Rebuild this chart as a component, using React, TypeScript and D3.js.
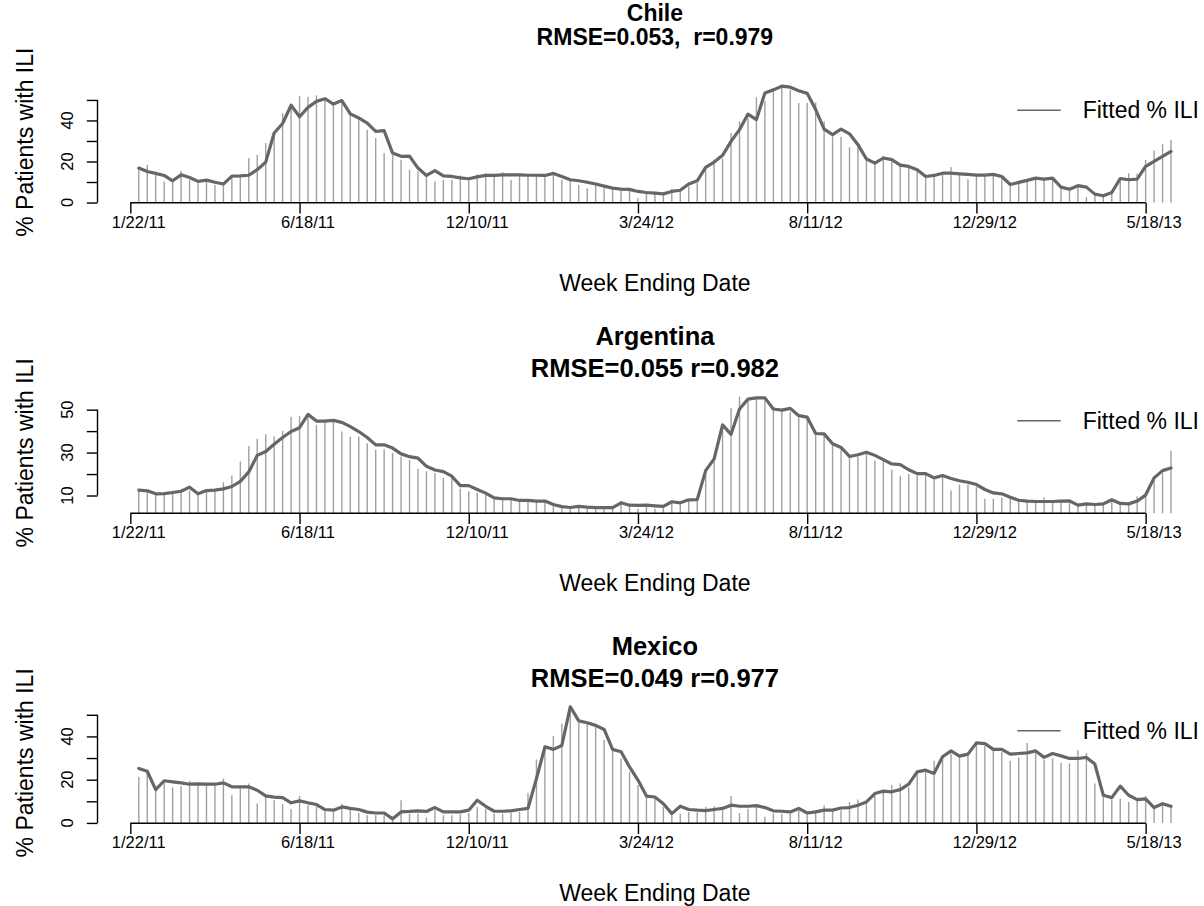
import * as React from 'react';
import * as d3 from 'd3';

// tick labels on the date axis (one every 20 weeks)
const dateLabels = ['1/22/11', '6/18/11', '12/10/11', '3/24/12', '8/11/12', '12/29/12', '5/18/13'];
const dateTickIdx = [0, 20, 40, 60, 80, 100, 120];

const chileObserved = [
  16.8, 18.4, 13.5, 10.3, 10.3, 15.5, 11.0, 9.5, 11.3, 8.6,
  8.6, 13.2, 12.7, 21.7, 23.3, 29.0, 33.0, 43.6, 46.9, 51.8,
  51.5, 52.3, 50.0, 47.5, 49.3, 42.9, 41.2, 35.5, 31.4, 24.1,
  23.3, 20.9, 16.0, 15.3, 12.7, 10.3, 11.1, 11.1, 13.2, 11.6,
  13.8, 14.3, 13.2, 14.8, 11.0, 13.7, 13.8, 13.3, 13.2, 14.2,
  11.1, 11.1, 8.6, 7.0, 9.0, 7.0, 7.0, 6.5, 6.4, 2.1,
  4.9, 4.6, 4.2, 6.7, 6.0, 7.8, 9.4, 16.8, 20.9, 21.4,
  33.9, 39.6, 41.2, 51.3, 49.3, 55.5, 56.7, 55.0, 48.5, 48.5,
  48.8, 39.6, 32.2, 31.9, 27.0, 27.7, 20.8, 18.9, 22.8, 20.1,
  17.9, 17.9, 15.2, 12.7, 13.2, 14.6, 17.3, 14.0, 11.4, 13.4,
  13.4, 13.7, 12.7, 8.1, 9.8, 10.8, 11.9, 11.4, 11.9, 7.5,
  6.5, 7.8, 2.6, 4.1, 3.3, 4.9, 11.4, 14.3, 14.0, 20.8,
  25.4, 28.5, 30.6,
];
const chileFitted = [
  16.8, 15.1, 14.2, 13.2, 10.6, 13.5, 12.2, 10.3, 10.9, 9.9,
  9.0, 12.9, 13.0, 13.3, 16.0, 19.7, 33.9, 38.5, 47.4, 41.8,
  46.4, 49.3, 50.6, 48.0, 49.7, 43.2, 41.2, 38.7, 34.7, 35.0,
  24.1, 22.5, 22.6, 16.8, 13.2, 15.5, 13.0, 12.7, 12.0, 11.6,
  12.5, 13.2, 13.2, 13.5, 13.5, 13.5, 13.3, 13.3, 13.2, 14.2,
  12.7, 11.1, 10.6, 9.9, 9.0, 8.0, 7.0, 6.5, 6.4, 5.4,
  4.9, 4.6, 4.2, 5.4, 6.0, 9.0, 10.6, 17.1, 19.7, 23.0,
  29.8, 35.5, 43.1, 40.4, 53.4, 54.9, 56.7, 56.2, 54.5, 53.2,
  45.3, 35.8, 33.1, 35.8, 33.5, 28.2, 21.2, 19.2, 21.7, 20.9,
  18.2, 17.6, 16.0, 12.7, 13.2, 14.3, 14.3, 14.0, 13.7, 13.4,
  13.4, 13.7, 12.7, 8.8, 9.8, 10.8, 11.9, 11.4, 11.9, 7.5,
  6.5, 8.2, 7.5, 4.1, 3.3, 4.9, 11.7, 11.1, 11.4, 17.6,
  20.0, 22.5, 24.9,
];

const argentinaObserved = [
  12.8, 12.0, 10.5, 10.9, 12.3, 12.8, 12.3, 10.2, 12.8, 12.5,
  16.2, 19.3, 25.9, 33.1, 36.4, 38.5, 37.5, 40.1, 46.7, 47.0,
  47.5, 42.9, 43.9, 44.7, 39.8, 37.3, 37.5, 34.4, 31.3, 31.6,
  29.8, 28.2, 26.5, 22.5, 21.3, 20.5, 18.2, 18.2, 13.2, 12.0,
  11.3, 10.5, 8.2, 8.5, 8.2, 7.7, 7.7, 7.4, 7.4, 5.8,
  4.8, 4.4, 4.9, 4.6, 4.4, 4.4, 4.4, 7.1, 5.5, 3.8,
  5.5, 3.8, 4.9, 7.1, 6.6, 8.0, 8.1, 20.5, 27.1, 41.4,
  50.9, 56.0, 54.5, 55.5, 54.8, 49.8, 49.8, 49.0, 46.3, 46.3,
  38.6, 38.3, 33.6, 31.3, 27.7, 28.2, 29.8, 26.2, 26.0, 22.0,
  19.0, 20.0, 19.4, 19.7, 17.5, 19.0, 12.3, 15.1, 15.1, 13.9,
  8.5, 8.5, 9.0, 9.2, 7.8, 7.4, 7.2, 9.2, 7.2, 7.4,
  7.5, 5.5, 6.1, 5.8, 6.1, 8.0, 6.3, 6.1, 9.7, 10.2,
  17.5, 20.5, 30.8,
];
const argentinaFitted = [
  12.5, 12.2, 10.8, 10.9, 11.4, 12.0, 13.9, 10.8, 12.3, 12.5,
  13.1, 14.2, 16.6, 21.0, 28.7, 30.5, 33.9, 37.0, 39.8, 41.6,
  47.8, 44.7, 44.7, 45.0, 44.1, 42.1, 39.8, 37.0, 33.6, 33.6,
  32.1, 29.4, 28.1, 27.4, 23.6, 21.9, 21.1, 19.0, 14.6, 14.6,
  12.8, 11.1, 8.9, 8.5, 8.5, 7.7, 7.7, 7.4, 7.4, 5.8,
  4.8, 4.4, 4.9, 4.6, 4.4, 4.4, 4.4, 6.6, 5.5, 5.4,
  5.5, 5.2, 4.9, 7.1, 6.6, 8.0, 8.1, 21.6, 27.1, 42.9,
  38.5, 50.3, 54.9, 55.5, 55.5, 50.3, 49.8, 50.6, 47.2, 46.5,
  38.9, 38.7, 34.1, 32.4, 28.2, 29.0, 30.2, 28.7, 26.7, 24.7,
  24.4, 22.0, 20.2, 20.2, 18.2, 19.3, 17.9, 16.9, 16.2, 15.1,
  12.8, 11.2, 10.8, 9.2, 7.8, 7.4, 7.2, 7.2, 7.2, 7.4,
  7.5, 5.5, 6.1, 5.8, 6.1, 8.0, 6.3, 6.1, 7.4, 10.2,
  18.2, 21.6, 22.8,
];

const mexicoObserved = [
  21.3, 23.6, 15.1, 19.0, 16.4, 17.0, 19.5, 18.5, 17.5, 17.5,
  20.5, 12.8, 15.9, 18.2, 9.0, 12.0, 10.5, 8.7, 6.3, 12.4,
  8.2, 7.4, 5.9, 5.1, 8.7, 6.6, 4.6, 3.5, 3.5, 3.5,
  2.0, 10.5, 4.3, 4.3, 2.5, 5.9, 3.5, 3.5, 4.0, 4.6,
  7.4, 6.6, 4.3, 4.3, 4.6, 5.1, 13.9, 29.3, 35.2, 40.1,
  46.0, 52.2, 46.3, 45.7, 44.4, 38.3, 33.6, 29.8, 23.6, 17.5,
  12.0, 11.3, 7.4, 3.5, 4.3, 5.1, 4.9, 7.4, 7.7, 5.9,
  12.4, 4.6, 6.6, 7.4, 2.8, 4.3, 4.3, 4.3, 5.9, 4.0,
  5.9, 8.2, 6.2, 5.9, 9.7, 10.8, 9.0, 12.8, 14.4, 17.5,
  18.2, 16.4, 22.5, 23.6, 28.7, 29.3, 32.1, 30.3, 31.3, 36.7,
  35.8, 33.6, 32.9, 28.7, 30.3, 37.0, 32.4, 29.3, 29.8, 27.8,
  27.5, 33.6, 32.4, 18.2, 12.0, 10.8, 11.3, 9.7, 10.5, 12.4,
  7.4, 8.2, 8.2,
];
const mexicoFitted = [
  25.2, 23.9, 15.4, 19.5, 19.0, 18.5, 17.9, 18.1, 17.9, 17.9,
  18.5, 16.7, 16.7, 16.7, 15.1, 12.5, 11.9, 11.7, 9.3, 10.2,
  9.3, 8.5, 6.2, 5.9, 7.4, 6.7, 6.2, 5.0, 4.6, 4.6,
  1.9, 5.1, 5.3, 5.6, 5.3, 7.1, 5.1, 5.1, 5.1, 5.9,
  10.5, 7.7, 5.4, 5.4, 5.6, 6.2, 6.7, 20.5, 35.2, 34.0,
  35.8, 53.7, 47.2, 46.3, 45.1, 43.2, 34.0, 32.9, 25.9, 19.8,
  12.4, 12.0, 8.9, 4.3, 7.7, 6.2, 5.9, 5.7, 6.2, 6.7,
  8.2, 7.7, 7.7, 8.0, 7.1, 5.6, 5.4, 5.1, 6.7, 4.6,
  5.1, 5.9, 5.9, 6.9, 7.1, 8.2, 9.7, 13.6, 14.7, 14.4,
  15.4, 17.9, 23.6, 24.4, 22.9, 30.6, 33.3, 30.9, 31.8, 37.0,
  36.7, 34.0, 34.0, 31.8, 32.1, 32.4, 33.3, 30.3, 32.1, 31.0,
  29.8, 29.8, 30.3, 27.2, 12.8, 11.7, 17.0, 12.8, 10.8, 11.1,
  7.1, 8.9, 7.7,
];

const countries = ['Chile', 'Argentina', 'Mexico'];
const statLines = ['RMSE=0.053,  r=0.979', 'RMSE=0.055 r=0.982', 'RMSE=0.049 r=0.977'];
const observedSeries = [chileObserved, argentinaObserved, mexicoObserved];
const fittedSeries = [chileFitted, argentinaFitted, mexicoFitted];
const yTickValues = [[0, 10, 20, 30, 40, 50], [10, 20, 30, 40, 50], [0, 10, 20, 30, 40, 50]];
const yTickLabels = [[0, 20, 40], [10, 30, 50], [0, 20, 40]];

// page geometry, hand tuned against the reference
const W = 1204;
const H = 906;
const plotLeft = 97.5;
const plotRight = 1212.3;
const plotHeight = 121;
const tickLen = 10.7;
const FONT = '"Liberation Sans", Arial, Helvetica, sans-serif';
const panelLayout = [
  { bottom: 202.7, titleY: 12.5, statsY: 37, titleSize: 23, xlabY: 283 },
  { bottom: 513.3, titleY: 335.5, statsY: 367.5, titleSize: 25.5, xlabY: 582.5 },
  { bottom: 823.3, titleY: 645.5, statsY: 677.5, titleSize: 25.5, xlabY: 892.5 },
];

const BAR_COLOR = '#a0a0a0';
const LINE_COLOR = '#666666';

const drawPanel = (svg, k) => {
  const observed = observedSeries[k];
  const fitted = fittedSeries[k];
  const L = panelLayout[k];
  const n = observed.length;
  const g = svg.append('g');

  // R style scales: data range padded by 4% on each side
  const xPad = 0.04 * (n - 1);
  const x = d3.scaleLinear().domain([1 - xPad, n + xPad]).range([plotLeft, plotRight]);
  const [lo, hi] = d3.extent(observed.concat(fitted)) as [number, number];
  const yPad = 0.04 * (hi - lo);
  const y = d3.scaleLinear().domain([lo - yPad, hi + yPad]).range([L.bottom, L.bottom - plotHeight]);
  const base = y(Math.max(0, y.domain()[0]));

  // observed bars (type = "h")
  g.append('g')
    .selectAll('line')
    .data(observed)
    .join('line')
    .attr('x1', (d, i) => x(i + 1))
    .attr('x2', (d, i) => x(i + 1))
    .attr('y1', base)
    .attr('y2', (d) => y(d))
    .attr('stroke', BAR_COLOR)
    .attr('stroke-width', 1.4);

  // fitted line
  const line = d3.line<number>()
    .x((d, i) => x(i + 1))
    .y((d) => y(d));
  g.append('path')
    .datum(fitted)
    .attr('d', line)
    .attr('fill', 'none')
    .attr('stroke', LINE_COLOR)
    .attr('stroke-width', 3.2)
    .attr('stroke-linejoin', 'round')
    .attr('stroke-linecap', 'round');

  // x axis: ticks every 20 weeks, axis line only between first and last tick
  const xAxis = g.append('g')
    .attr('transform', `translate(0, ${L.bottom})`)
    .call(d3.axisBottom(x).tickValues(dateTickIdx).tickSize(tickLen).tickFormat(() => ''));
  xAxis.select('.domain')
    .attr('d', `M${x(dateTickIdx[0])},0H${x(dateTickIdx[dateTickIdx.length - 1])}`);
  xAxis.selectAll('line, path').attr('stroke', '#000').attr('stroke-width', 1.4);
  xAxis.selectAll('text').remove();

  g.append('g')
    .selectAll('text')
    .data(dateLabels)
    .join('text')
    .attr('x', (d, i) => x(dateTickIdx[i] + 1))
    .attr('y', L.bottom + 19)
    .attr('text-anchor', 'middle')
    .attr('dominant-baseline', 'central')
    .attr('font-family', FONT)
    .attr('font-size', 16.5)
    .text((d) => d);

  // y axis
  const yt = yTickValues[k];
  const yAxis = g.append('g')
    .attr('transform', `translate(${plotLeft}, 0)`)
    .call(d3.axisLeft(y).tickValues(yt).tickSize(tickLen).tickFormat(() => ''));
  yAxis.select('.domain').attr('d', `M0,${y(yt[0])}V${y(yt[yt.length - 1])}`);
  yAxis.selectAll('line, path').attr('stroke', '#000').attr('stroke-width', 1.4);
  yAxis.selectAll('text').remove();

  g.append('g')
    .selectAll('text')
    .data(yTickLabels[k])
    .join('text')
    .attr('transform', (d) => `translate(66.7, ${y(d)}) rotate(-90)`)
    .attr('text-anchor', 'middle')
    .attr('dominant-baseline', 'central')
    .attr('font-family', FONT)
    .attr('font-size', 16.5)
    .text((d) => String(d));

  // axis titles
  g.append('text')
    .attr('transform', `translate(25, ${L.bottom - plotHeight / 2}) rotate(-90)`)
    .attr('text-anchor', 'middle')
    .attr('dominant-baseline', 'central')
    .attr('font-family', FONT)
    .attr('font-size', 23)
    .text('% Patients with ILI');

  const midX = (plotLeft + plotRight) / 2;
  g.append('text')
    .attr('x', midX)
    .attr('y', L.xlabY)
    .attr('text-anchor', 'middle')
    .attr('dominant-baseline', 'central')
    .attr('font-family', FONT)
    .attr('font-size', 23)
    .text('Week Ending Date');

  // two line bold title
  g.append('text')
    .attr('x', midX)
    .attr('y', L.titleY)
    .attr('text-anchor', 'middle')
    .attr('dominant-baseline', 'central')
    .attr('font-family', FONT)
    .attr('font-weight', 'bold')
    .attr('font-size', L.titleSize)
    .text(countries[k]);
  g.append('text')
    .attr('x', midX)
    .attr('y', L.statsY)
    .attr('text-anchor', 'middle')
    .attr('dominant-baseline', 'central')
    .attr('font-family', FONT)
    .attr('font-weight', 'bold')
    .attr('font-size', L.titleSize)
    .style('white-space', 'pre')
    .text(statLines[k]);

  // legend, top right, no box
  const legY = L.bottom - plotHeight + 28.5;
  g.append('line')
    .attr('x1', 1017.3)
    .attr('x2', 1060.7)
    .attr('y1', legY)
    .attr('y2', legY)
    .attr('stroke', LINE_COLOR)
    .attr('stroke-width', 1.4);
  g.append('text')
    .attr('x', 1082.7)
    .attr('y', legY)
    .attr('dominant-baseline', 'central')
    .attr('font-family', FONT)
    .attr('font-size', 23)
    .text('Fitted % ILI');
};

export default function App() {
  const ref = React.useRef<SVGSVGElement>(null);

  React.useEffect(() => {
    const svg = d3.select(ref.current);
    svg.selectAll('*').remove();
    countries.forEach((c, k) => drawPanel(svg, k));
  }, []);

  return (
    <svg
      ref={ref}
      width={W}
      height={H}
      style={{ position: 'absolute', left: 0, top: 0, background: '#fff' }}
    />
  );
}
